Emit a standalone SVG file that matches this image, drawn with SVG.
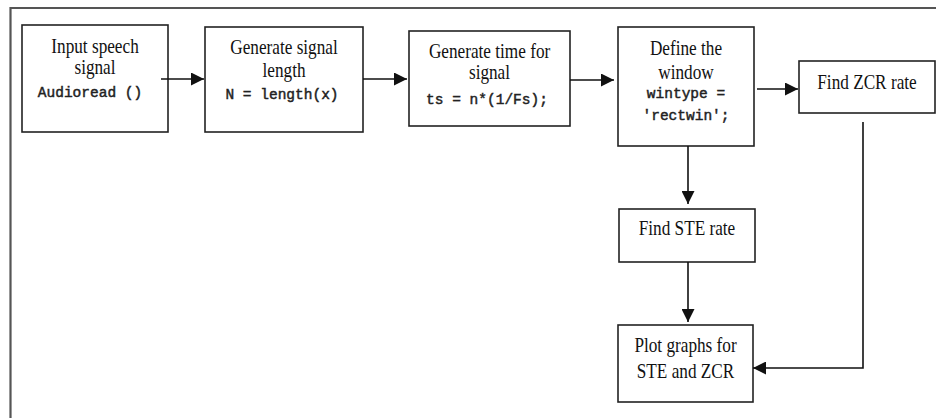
<svg xmlns="http://www.w3.org/2000/svg" width="936" height="418" viewBox="0 0 936 418">
  <style>
    .box { fill: #fff; stroke: #222; stroke-width: 1.6; }
    .lbl { font-family: "Liberation Serif", "Times New Roman", serif; font-size: 21px; fill: #111; text-anchor: middle;
           transform-box: fill-box; transform-origin: center; transform: scaleX(0.82); }
    .code { font-family: "Liberation Mono", "Courier New", monospace; font-size: 14.5px; fill: #222; stroke: #222; stroke-width: 0.45; text-anchor: middle; }
    .wire { fill: none; stroke: #111; stroke-width: 1.6; }
    .frame { fill: none; stroke: #555; stroke-width: 2.2; }
  </style>
  <defs>
    <marker id="head" viewBox="0 0 13 13" refX="13" refY="6.5" markerWidth="13" markerHeight="13" markerUnits="userSpaceOnUse" orient="auto">
      <path d="M0,0 L13,6.5 L0,13 Z" fill="#111"/>
    </marker>
  </defs>

  <rect width="936" height="418" fill="#fff"/>
  <!-- outer frame (runs off the canvas on the right and bottom) -->
  <path class="frame" d="M10.5,418 V8 H936"/>

  <g id="n-input">
    <rect class="box" x="22" y="25" width="146" height="107"/>
    <text class="lbl" x="95" y="53">Input speech</text>
    <text class="lbl" x="95" y="74">signal</text>
    <text class="code" x="90" y="97">Audioread ()</text>
  </g>

  <g id="n-length">
    <rect class="box" x="205" y="27" width="158" height="105"/>
    <text class="lbl" x="284" y="54">Generate signal</text>
    <text class="lbl" x="284" y="77">length</text>
    <text class="code" x="282" y="99">N = length(x)</text>
  </g>

  <g id="n-time">
    <rect class="box" x="409" y="31" width="161" height="95"/>
    <text class="lbl" x="489.5" y="58">Generate time for</text>
    <text class="lbl" x="489.5" y="79">signal</text>
    <text class="code" x="487" y="104">ts = n*(1/Fs);</text>
  </g>

  <g id="n-window">
    <rect class="box" x="618" y="27" width="136" height="119"/>
    <text class="lbl" x="686" y="55">Define the</text>
    <text class="lbl" x="686" y="79">window</text>
    <text class="code" x="686" y="98">wintype =</text>
    <text class="code" x="686" y="120">'rectwin';</text>
  </g>

  <g id="n-zcr">
    <rect class="box" x="799" y="61" width="136" height="52"/>
    <text class="lbl" x="867" y="89">Find ZCR rate</text>
  </g>

  <g id="n-ste">
    <rect class="box" x="619" y="209" width="136" height="53"/>
    <text class="lbl" x="687" y="235">Find STE rate</text>
  </g>

  <g id="n-plot">
    <rect class="box" x="618" y="325" width="135" height="77"/>
    <text class="lbl" x="685.5" y="352">Plot graphs for</text>
    <text class="lbl" x="685.5" y="378">STE and ZCR</text>
  </g>

  <g id="connectors">
    <line class="wire" x1="161" y1="79" x2="204" y2="79" marker-end="url(#head)"/>
    <line class="wire" x1="363" y1="79" x2="407" y2="79" marker-end="url(#head)"/>
    <line class="wire" x1="570" y1="80" x2="614" y2="80" marker-end="url(#head)"/>
    <line class="wire" x1="757" y1="89" x2="798" y2="89" marker-end="url(#head)"/>
    <line class="wire" x1="688" y1="146" x2="688" y2="204" marker-end="url(#head)"/>
    <line class="wire" x1="688" y1="262" x2="688" y2="322" marker-end="url(#head)"/>
    <polyline class="wire" points="863,122 863,368 753,368" marker-end="url(#head)"/>
  </g>
</svg>
